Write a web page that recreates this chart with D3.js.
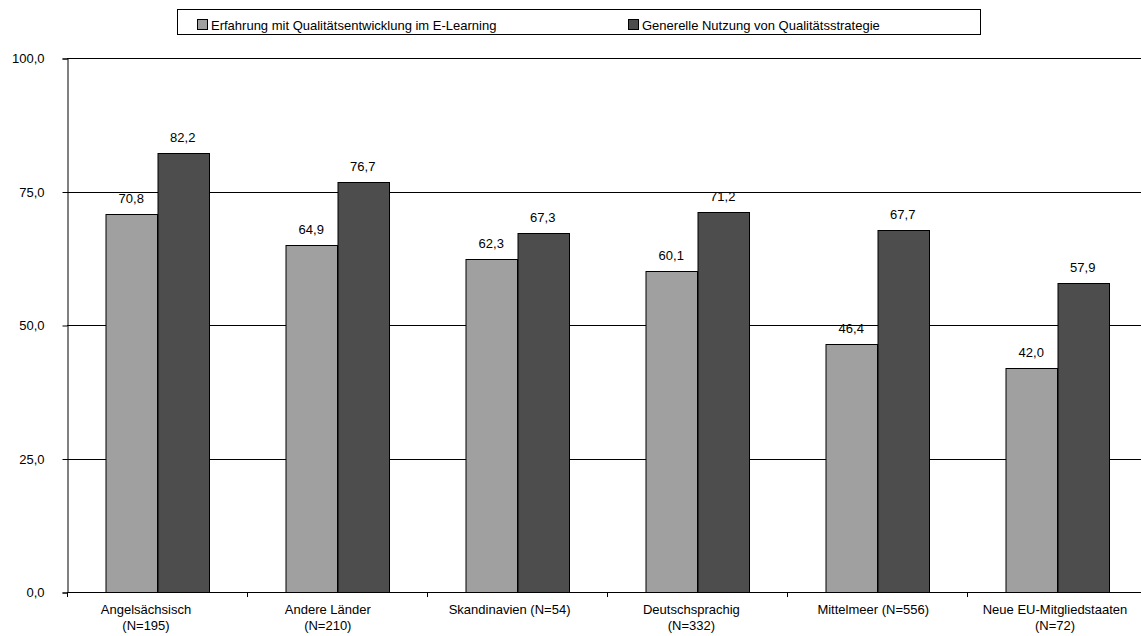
<!DOCTYPE html>
<html>
<head>
<meta charset="utf-8">
<script src="https://cdn.jsdelivr.net/npm/d3@7"></script>
<style>
  html, body { margin: 0; padding: 0; background: #fff; }
  svg { display: block; font-family: "Liberation Sans", Arial, sans-serif; }
</style>
</head>
<body>
<svg id="chart" width="1141" height="636"></svg>
<script>
const categories = [
  ["Angelsächsisch", "(N=195)"],
  ["Andere Länder", "(N=210)"],
  ["Skandinavien (N=54)"],
  ["Deutschsprachig", "(N=332)"],
  ["Mittelmeer (N=556)"],
  ["Neue EU-Mitgliedstaaten", "(N=72)"]
];
const seriesNames = [
  "Erfahrung mit Qualitätsentwicklung im E-Learning",
  "Generelle Nutzung von Qualitätsstrategie"
];
const erfahrung = [70.8, 64.9, 62.3, 60.1, 46.4, 42.0];
const nutzung   = [82.2, 76.7, 67.3, 71.2, 67.7, 57.9];
const yTicks = [0, 25, 50, 75, 100];
const colors = ["#a0a0a0", "#4d4d4d"];

const fmt = v => v.toFixed(1).replace(".", ",");
const fontSize = 13;

const svg = d3.select("#chart");
const plotLeft = 67, plotTop = 58, plotBottom = 592;
const bandW = 180;
const plotRight = plotLeft + bandW * categories.length;

const x = d3.scaleBand().domain(d3.range(categories.length)).range([plotLeft, plotRight]).padding(0);
const y = d3.scaleLinear().domain([0, 100]).range([plotBottom, plotTop]);
const inner = d3.scaleBand().domain([0, 1]).range([0, 103]);
const innerOffset = (bandW - 103) / 2;
// category captions sit on their own, slightly wider spacing
const labelX = d3.scaleLinear().domain([0, categories.length - 1]).range([146, 1055]);

// horizontal gridlines
svg.append("g").selectAll("line").data(yTicks.filter(t => t > 0)).join("line")
  .attr("x1", plotLeft).attr("x2", plotRight)
  .attr("y1", d => Math.round(y(d)) + 0.5).attr("y2", d => Math.round(y(d)) + 0.5)
  .attr("stroke", "#000").attr("stroke-width", 1);

// bars
const series = [erfahrung, nutzung];
const groups = svg.append("g").selectAll("g").data(categories.map((c, i) => i)).join("g")
  .attr("transform", i => `translate(${x(i) + innerOffset},0)`);

groups.selectAll("rect").data(i => series.map((s, k) => ({k, v: s[i]}))).join("rect")
  .attr("x", d => Math.round(inner(d.k)) + 0.5)
  .attr("y", d => Math.round(y(d.v)) + 0.5)
  .attr("width", inner.bandwidth())
  .attr("height", d => Math.round(y(0)) - Math.round(y(d.v)))
  .attr("fill", d => colors[d.k])
  .attr("stroke", "#000").attr("stroke-width", 1);

groups.selectAll("text").data(i => series.map((s, k) => ({k, v: s[i]}))).join("text")
  .attr("x", d => inner(d.k) + inner.bandwidth() / 2)
  .attr("y", d => y(d.v) - 11)
  .attr("text-anchor", "middle")
  .attr("font-size", fontSize)
  .attr("fill", "#000")
  .text(d => fmt(d.v));

// y axis
const yAxis = d3.axisLeft(y).tickValues(yTicks).tickSize(5).tickPadding(18).tickFormat(fmt);
const gy = svg.append("g").attr("transform", `translate(${plotLeft + 0.5},0.5)`).call(yAxis);
gy.select(".domain").attr("stroke", "#000");
gy.selectAll(".tick line").attr("stroke", "#000");
gy.selectAll(".tick text").attr("font-size", fontSize).attr("fill", "#000")
  .attr("font-family", "Liberation Sans, Arial, sans-serif");

// x axis baseline with category boundary ticks
svg.append("line").attr("x1", plotLeft).attr("x2", plotRight)
  .attr("y1", plotBottom + 0.5).attr("y2", plotBottom + 0.5).attr("stroke", "#000");
svg.append("g").selectAll("line").data(d3.range(categories.length + 1)).join("line")
  .attr("x1", i => plotLeft + i * bandW + 0.5).attr("x2", i => plotLeft + i * bandW + 0.5)
  .attr("y1", plotBottom).attr("y2", plotBottom + 5).attr("stroke", "#000");

// category labels
const lbl = svg.append("g").selectAll("text").data(categories).join("text")
  .attr("x", (c, i) => labelX(i))
  .attr("y", plotBottom + 22)
  .attr("text-anchor", "middle")
  .attr("font-size", fontSize)
  .attr("fill", "#000");
lbl.selectAll("tspan").data(c => c).join("tspan")
  .attr("x", function() { return d3.select(this.parentNode).attr("x"); })
  .attr("dy", (d, j) => j === 0 ? 0 : 16)
  .text(d => d);

// legend
const lg = svg.append("g");
lg.append("rect").attr("x", 177.5).attr("y", 9.5).attr("width", 803).attr("height", 25)
  .attr("fill", "#fff").attr("stroke", "#000");
const legendX = [197, 628];
const item = lg.selectAll("g").data(seriesNames).join("g")
  .attr("transform", (d, i) => `translate(${legendX[i]},0)`);
item.append("rect").attr("x", 0.5).attr("y", 19.5).attr("width", 10).attr("height", 10)
  .attr("fill", (d, i) => colors[i]).attr("stroke", "#000");
item.append("text").attr("x", 14).attr("y", 29.5).attr("font-size", fontSize).attr("fill", "#000")
  .text(d => d);
</script>
</body>
</html>
